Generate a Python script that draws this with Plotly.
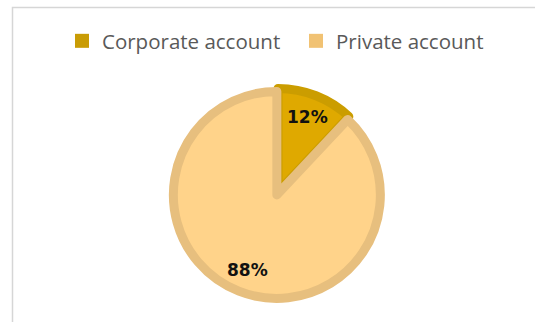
import math
import plotly.graph_objects as go

# Account type split
categories = ["Corporate account", "Private account"]
shares = [12, 88]

fill_colors = ["#DFA900", "#FFD38A"]
edge_colors = ["#CB9D00", "#E7BF7E"]
key_colors = ["#C99C05", "#F1C273"]
pulls = [0, 0.03]

W, H = 535, 322
cx, cy, rad = 278, 192, 106.6  # pie domain centre / half-size in px (from top-left)
edge_w = 9

fig = go.Figure()

fig.add_trace(
    go.Pie(
        labels=categories,
        values=shares,
        sort=False,
        direction="clockwise",
        rotation=0,
        pull=pulls,
        marker=dict(colors=fill_colors, line=dict(color=edge_colors, width=edge_w)),
        textinfo="none",
        hoverinfo="label+percent",
        showlegend=False,
        domain=dict(
            x=[(cx - rad) / W, (cx + rad) / W],
            y=[(H - cy - rad) / H, (H - cy + rad) / H],
        ),
    )
)

# legend keys as solid squares
for name, col in zip(categories, key_colors):
    fig.add_trace(
        go.Scatter(
            x=[None], y=[None], mode="markers", name=name,
            marker=dict(symbol="square", size=14, color=col),
            hoverinfo="skip",
        )
    )

# percentage labels placed along each slice's mid-angle
total = sum(shares)
r_pie = rad / (1 + max(pulls))
start = 0.0
for val, pull in zip(shares, pulls):
    span = 360.0 * val / total
    mid = math.radians(start + span / 2)
    dist = r_pie * (0.78 + pull)
    px = cx + dist * math.sin(mid)
    py = cy - dist * math.cos(mid)
    fig.add_annotation(
        x=px / W, y=1 - py / H, xref="paper", yref="paper",
        xanchor="center", yanchor="middle",
        text=f"{round(100 * val / total)}%", showarrow=False,
        font=dict(family="DejaVu Sans", size=17, color="#111111", weight="bold"),
    )
    start += span

# light frame around the chart area
fig.add_shape(
    type="rect", xref="paper", yref="paper",
    x0=12.5 / W, x1=1.05, y0=-0.05, y1=(H - 7.5) / H,
    line=dict(color="#D6D6D6", width=1.5), fillcolor="rgba(0,0,0,0)", layer="below",
)

fig.update_layout(
    width=W, height=H,
    margin=dict(l=0, r=0, t=0, b=0),
    paper_bgcolor="white",
    plot_bgcolor="white",
    xaxis=dict(visible=False),
    yaxis=dict(visible=False),
    showlegend=True,
    legend=dict(
        orientation="h",
        x=62 / W, xanchor="left",
        y=1 - 41 / H, yanchor="middle",
        entrywidth=189,
        font=dict(family="Open Sans", size=20.5, color="#595959"),
        bgcolor="rgba(0,0,0,0)",
        itemclick=False,
    ),
)

fig.write_html("out.html")
